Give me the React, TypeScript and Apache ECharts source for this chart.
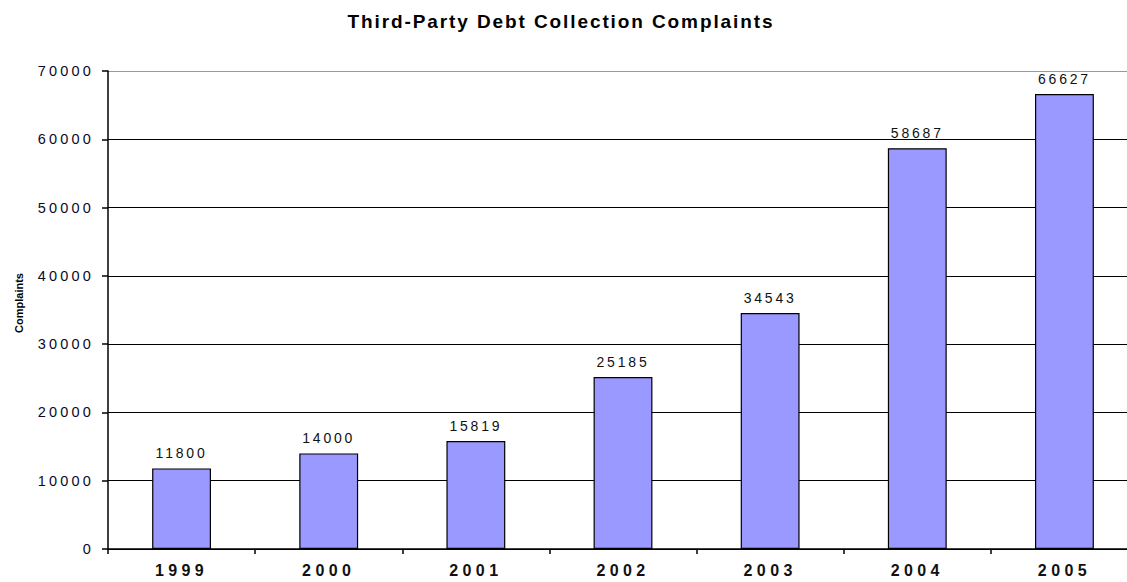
import React, { useEffect, useRef } from "react";
import * as echarts from "echarts";

const title = "Third-Party Debt Collection Complaints";
const yAxisName = "Complaints";
const years = ["1999", "2000", "2001", "2002", "2003", "2004", "2005"];
const complaints = [11800, 14000, 15819, 25185, 34543, 58687, 66627];
const yMin = 0;
const yMax = 70000;
const yInterval = 10000;

const FONT = "'Liberation Sans', Arial, sans-serif";

export default function App() {
  const ref = useRef<HTMLDivElement>(null);
  useEffect(() => {
    if (!ref.current) return;
    const chart = echarts.init(ref.current, null, { renderer: "svg" });
    chart.setOption({
      animation: false,
      backgroundColor: "#ffffff",
      title: {
        text: title,
        left: 556,
        top: 7,
        textAlign: "center",
        textStyle: { fontFamily: FONT, fontSize: 19, fontWeight: "bold", color: "#000" },
      },
      grid: { left: 108, right: 0, top: 71, bottom: 33, containLabel: false },
      xAxis: {
        type: "category",
        data: years,
        axisLine: { lineStyle: { color: "#000", width: 1.5 } },
        axisTick: { show: true, length: 5, lineStyle: { color: "#000", width: 1.5 } },
        axisLabel: { margin: 13, fontFamily: FONT, fontSize: 16, fontWeight: "bold", color: "#111" },
      },
      yAxis: {
        type: "value",
        min: yMin,
        max: yMax,
        interval: yInterval,
        name: yAxisName,
        nameLocation: "middle",
        nameGap: 84,
        nameTextStyle: {
          fontFamily: FONT,
          fontSize: 11,
          fontWeight: "bold",
          color: "#000",
          padding: [0, 0, 0, 14],
        },
        axisLine: { show: true, lineStyle: { color: "#000", width: 1.5 } },
        axisTick: { show: true, length: 6, lineStyle: { color: "#000", width: 1.5 } },
        axisLabel: {
          margin: 14,
          fontFamily: FONT,
          fontSize: 14.5,
          color: "#0a0a2a",
          formatter: (v: number) => String(v),
        },
        splitLine: {
          show: true,
          lineStyle: {
            color: ["#000", "#000", "#000", "#000", "#000", "#000", "#000", "#999"],
            width: 1,
          },
        },
      },
      series: [
        {
          type: "bar",
          data: complaints,
          barCategoryGap: "60%",
          itemStyle: { color: "#9999FF", borderColor: "#000", borderWidth: 1.2 },
          label: {
            show: true,
            position: "top",
            distance: 8,
            fontFamily: FONT,
            fontSize: 14,
            color: "#111",
          },
        },
      ],
    });
    return () => chart.dispose();
  }, []);
  return (
    <>
      <style>{`
        #chartbox text[style*="14px"] { letter-spacing: 2.8px; }
        #chartbox text[style*="14.5px"] { letter-spacing: 3.2px; }
        #chartbox text[style*="16px"] { letter-spacing: 4.4px; }
        #chartbox text[style*="19px"] { letter-spacing: 1.9px; }
      `}</style>
      <div
        style={{ position: "fixed", left: 0, top: 0, width: 1127, height: 582, overflow: "hidden" }}
      >
        <div id="chartbox" ref={ref} style={{ width: 1138, height: 582 }} />
      </div>
    </>
  );
}
